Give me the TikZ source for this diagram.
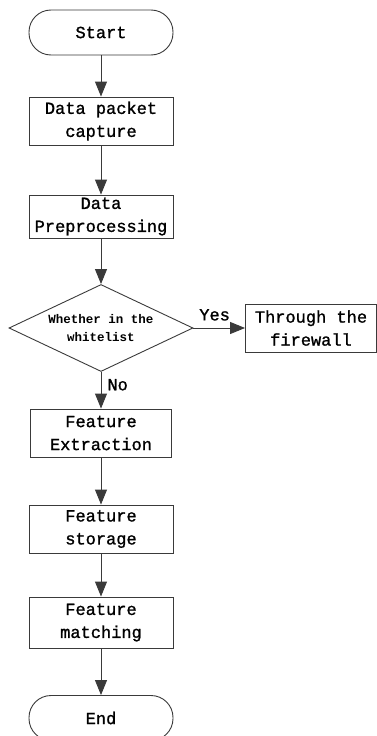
\documentclass[tikz,border=0pt]{standalone}
\usepackage{fontspec}
\setmainfont{Liberation Mono}
\newfontfamily\flowfont{Liberation Mono}[FakeBold=1.2]
\usetikzlibrary{shapes.geometric, arrows.meta}
\definecolor{linecolor}{HTML}{3A3A3A}

\begin{document}
\begin{tikzpicture}[
    x=1pt, y=-1pt,
    box/.style={draw=linecolor, line width=0.9pt, minimum width=144pt, minimum height=48pt, inner sep=0pt, align=center, font=\flowfont\fontsize{17}{23}\selectfont},
    terminal/.style={box, rounded corners=22pt, minimum height=45pt},
    decision/.style={diamond, aspect=2.1, draw=linecolor, line width=0.9pt, minimum width=184pt, minimum height=87pt, inner sep=0pt, align=center, font=\fontsize{12.5}{18}\selectfont\bfseries},
    flow/.style={draw=linecolor, line width=0.9pt, -{Triangle[length=15pt, width=12pt]}},
    answer/.style={font=\flowfont\fontsize{17}{20}\selectfont, inner sep=2pt}
]
  \useasboundingbox (0,0) rectangle (377,736);

  % 1. Main column
  \node[terminal] (start) at (101,32.5) {Start};
  \node[box] (capture) at (101,121) {Data packet\\capture};
  \node[box, minimum height=43pt] (prep) at (101,216.5) {Data\\Preprocessing};

  % 2. Whitelist check
  \node[decision] (check) at (101,328) {Whether in the\\whitelist};
  \node[box, minimum width=131pt] (pass) at (311,328) {Through the\\firewall};

  % 3. Feature steps
  \node[box, minimum width=141pt] (extract) at (101,433) {Feature\\Extraction};
  \node[box] (store) at (101,529) {Feature\\storage};
  \node[box, minimum height=51pt] (match) at (101,622.5) {Feature\\matching};
  \node[terminal] (stop) at (101,718) {End};

  % 4. Connectors
  \draw[flow] (start) -- (capture);
  \draw[flow] (capture) -- (prep);
  \draw[flow] (prep) -- (check);
  \draw[flow] (check) -- node[answer, above=5pt, pos=0.41] (yes) {Yes} (pass);
  \draw[flow] (check) -- node[answer, right=4pt, pos=0.35] (no) {No} (extract);
  \draw[flow] (extract) -- (store);
  \draw[flow] (store) -- (match);
  \draw[flow] (match) -- (stop);

\end{tikzpicture}
\end{document}
